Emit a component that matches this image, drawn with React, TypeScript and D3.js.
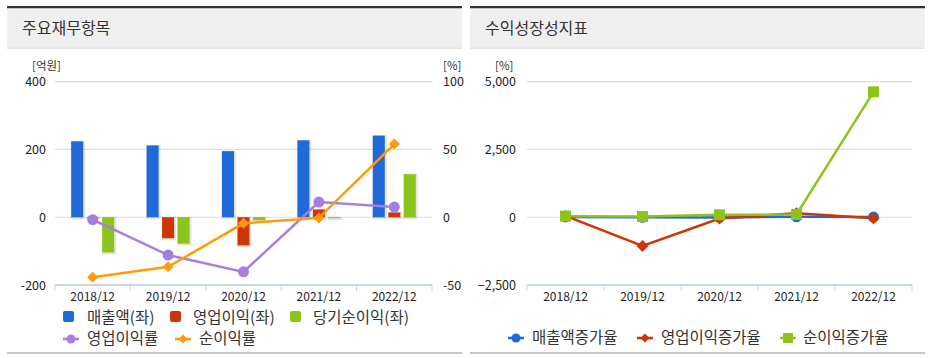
import React from "react";
import * as d3 from "d3";

const categories = ["2018/12", "2019/12", "2020/12", "2021/12", "2022/12"];
const sales = [224, 212, 195, 227, 241];
const opIncome = [-2, -62, -83, 23, 14];
const netIncome = [-104, -78, -9, -3, 127];
const opMargin = [-1.8, -27.9, -40.3, 11.2, 7.5];
const netMargin = [-44.3, -36.6, -4.5, -0.5, 54];
const leftTicks = [400, 200, 0, -200];
const rightPctTicks = [100, 50, 0, -50];

const salesGrowth = [10, -5, -8, 16, 6];
const opGrowth = [50, -1060, -50, 150, -40];
const netGrowth = [40, 25, 90, 100, 4627];
const growthTicks = [5000, 2500, 0, -2500];

const BLUE = "#1f69d9";
const RED = "#cf3500";
const GREEN = "#8cc41a";
const PURPLE = "#a57fdf";
const ORANGE = "#ff9c0a";
const FONT = "'Malgun Gothic','Noto Sans CJK KR','Noto Sans',sans-serif";

function Panel({ x, w, title }: { x: number; w: number; title: string }) {
  return (
    <g>
      <rect x={x} y={6} width={w} height={2.5} fill="#333" />
      <rect x={x} y={8.5} width={w} height={39} fill="#efefef" />
      <rect x={x} y={47.5} width={w} height={1.2} fill="#dcdcdc" />
      <text x={x + 15} y={34} fontSize={16} fill="#333" fontFamily={FONT}>{title}</text>
      <rect x={x} y={352} width={w} height={2} fill="#c8c8c8" />
    </g>
  );
}

function diamond(cx: number, cy: number, r: number) {
  return `M${cx},${cy - r}L${cx + r},${cy}L${cx},${cy + r}L${cx - r},${cy}Z`;
}

function LeftChart() {
  const x0 = 55, x1 = 432;
  const y = d3.scaleLinear().domain([-200, 400]).range([285, 81.7]);
  const yr = d3.scaleLinear().domain([-50, 100]).range([285, 81.7]);
  const xb = d3.scaleBand().domain(categories).range([x0, x1]);
  const inner = d3.scaleBand().domain(["s", "o", "n"]).range([0, xb.bandwidth()]).paddingInner(0.226).paddingOuter(1.045);
  const cx = (c: string) => (xb(c) as number) + xb.bandwidth() / 2;
  const series = [
    { key: "s", vals: sales, color: BLUE },
    { key: "o", vals: opIncome, color: RED },
    { key: "n", vals: netIncome, color: GREEN },
  ];
  const lineGen = (vals: number[]) =>
    d3.line<number>().x((_, i) => cx(categories[i])).y((v) => yr(v))(vals) as string;
  return (
    <g fontFamily={FONT}>
      {leftTicks.map((t) => (
        <g key={t}>
          {t !== -200 && <line x1={x0} x2={x1} y1={y(t)} y2={y(t)} stroke="#dedede" strokeWidth={1.2} />}
          <text x={46} y={y(t) + 4.5} fontSize={12.5} textAnchor="end" fill="#222">{t}</text>
        </g>
      ))}
      {rightPctTicks.map((t) => (
        <text key={t} x={443} y={yr(t) + 4.5} fontSize={12.5} fill="#222">{t}</text>
      ))}
      <text x={32} y={70} fontSize={11.5} fill="#333">[억원]</text>
      <text x={443} y={70} fontSize={11.5} fill="#333">[%]</text>
      <line x1={x0} x2={x1} y1={285} y2={285} stroke="#c9d6e3" strokeWidth={2} />
      {d3.range(categories.length + 1).map((i) => {
        const xx = x0 + i * xb.bandwidth();
        return <line key={i} x1={xx} x2={xx} y1={285} y2={291} stroke="#c9d6e3" strokeWidth={1} />;
      })}
      {categories.map((c) => (
        <text key={c} x={cx(c)} y={301} fontSize={12} textAnchor="middle" fill="#222">{c}</text>
      ))}
      {series.map((s) =>
        s.vals.map((v, i) => {
          const bx = (xb(categories[i]) as number) + (inner(s.key) as number);
          const top = Math.min(y(v), y(0));
          const h = Math.abs(y(v) - y(0));
          return (
            <g key={s.key + i}>
              <rect x={bx - 0.5} y={top - 0.5} width={inner.bandwidth() + 2.5} height={h + 2.5} fill="#000" opacity={0.1} />
              <rect x={bx} y={top} width={inner.bandwidth()} height={h} fill={s.color} />
            </g>
          );
        })
      )}
      <path d={lineGen(opMargin)} fill="none" stroke={PURPLE} strokeWidth={2.5} />
      {opMargin.map((v, i) => (
        <circle key={i} cx={cx(categories[i])} cy={yr(v)} r={5.5} fill={PURPLE} />
      ))}
      <path d={lineGen(netMargin)} fill="none" stroke={ORANGE} strokeWidth={2.5} />
      {netMargin.map((v, i) => (
        <path key={i} d={diamond(cx(categories[i]), yr(v), 5.5)} fill={ORANGE} />
      ))}
      <g fontSize={15.5} fill="#333">
        <rect x={63} y={311} width={11} height={11} rx={2} fill={BLUE} />
        <text x={87} y={322.5}>매출액(좌)</text>
        <rect x={170} y={311} width={11} height={11} rx={2} fill={RED} />
        <text x={193} y={322.5}>영업이익(좌)</text>
        <rect x={290} y={311} width={11} height={11} rx={2} fill={GREEN} />
        <text x={313} y={322.5}>당기순이익(좌)</text>
        <line x1={63} x2={79} y1={339} y2={339} stroke={PURPLE} strokeWidth={2.5} />
        <circle cx={71} cy={339} r={4.5} fill={PURPLE} />
        <text x={87} y={344}>영업이익률</text>
        <line x1={175} x2={191} y1={339} y2={339} stroke={ORANGE} strokeWidth={2.5} />
        <path d={diamond(183, 339, 4.5)} fill={ORANGE} />
        <text x={199} y={344}>순이익률</text>
      </g>
    </g>
  );
}

function RightChart() {
  const x0 = 527, x1 = 912;
  const y = d3.scaleLinear().domain([-2500, 5000]).range([285, 81.7]);
  const xb = d3.scaleBand().domain(categories).range([x0, x1]);
  const cx = (c: string) => (xb(c) as number) + xb.bandwidth() / 2;
  const lineGen = (vals: number[]) =>
    d3.line<number>().x((_, i) => cx(categories[i])).y((v) => y(v))(vals) as string;
  const fmt = d3.format(",");
  return (
    <g fontFamily={FONT}>
      {growthTicks.map((t) => (
        <g key={t}>
          {t !== -2500 && <line x1={x0} x2={x1} y1={y(t)} y2={y(t)} stroke="#dedede" strokeWidth={1.2} />}
          <text x={516} y={y(t) + 4.5} fontSize={12.5} textAnchor="end" fill="#222">{fmt(t)}</text>
        </g>
      ))}
      <text x={495} y={70} fontSize={11.5} fill="#333">[%]</text>
      <line x1={x0} x2={x1} y1={285} y2={285} stroke="#c9d6e3" strokeWidth={2} />
      {d3.range(categories.length + 1).map((i) => {
        const xx = x0 + i * xb.bandwidth();
        return <line key={i} x1={xx} x2={xx} y1={285} y2={291} stroke="#c9d6e3" strokeWidth={1} />;
      })}
      {categories.map((c) => (
        <text key={c} x={cx(c)} y={301} fontSize={12} textAnchor="middle" fill="#222">{c}</text>
      ))}
      <path d={lineGen(salesGrowth)} fill="none" stroke={BLUE} strokeWidth={2.5} />
      {salesGrowth.map((v, i) => (
        <circle key={i} cx={cx(categories[i])} cy={y(v)} r={5.5} fill={BLUE} />
      ))}
      <path d={lineGen(opGrowth)} fill="none" stroke={RED} strokeWidth={2.5} />
      {opGrowth.map((v, i) => (
        <path key={i} d={diamond(cx(categories[i]), y(v), 6)} fill={RED} />
      ))}
      <path d={lineGen(netGrowth)} fill="none" stroke={GREEN} strokeWidth={2.5} />
      {netGrowth.map((v, i) => (
        <rect key={i} x={cx(categories[i]) - 5.5} y={y(v) - 5.5} width={11} height={11} fill={GREEN} />
      ))}
      <g fontSize={15.5} fill="#333">
        <line x1={508} x2={524} y1={338} y2={338} stroke={BLUE} strokeWidth={2.5} />
        <circle cx={516} cy={338} r={4.5} fill={BLUE} />
        <text x={532} y={343}>매출액증가율</text>
        <line x1={637} x2={653} y1={338} y2={338} stroke={RED} strokeWidth={2.5} />
        <path d={diamond(645, 338, 4.5)} fill={RED} />
        <text x={661} y={343}>영업이익증가율</text>
        <line x1={780} x2={796} y1={338} y2={338} stroke={GREEN} strokeWidth={2.5} />
        <rect x={783} y={333} width={10} height={10} fill={GREEN} />
        <text x={803} y={343}>순이익증가율</text>
      </g>
    </g>
  );
}

export default function App() {
  return (
    <svg width={932} height={358} style={{ position: "absolute", left: 0, top: 0, background: "#fff" }}>
      <rect width={932} height={358} fill="#fff" />
      <Panel x={7} w={455} title="주요재무항목" />
      <Panel x={470} w={455} title="수익성장성지표" />
      <LeftChart />
      <RightChart />
    </svg>
  );
}
